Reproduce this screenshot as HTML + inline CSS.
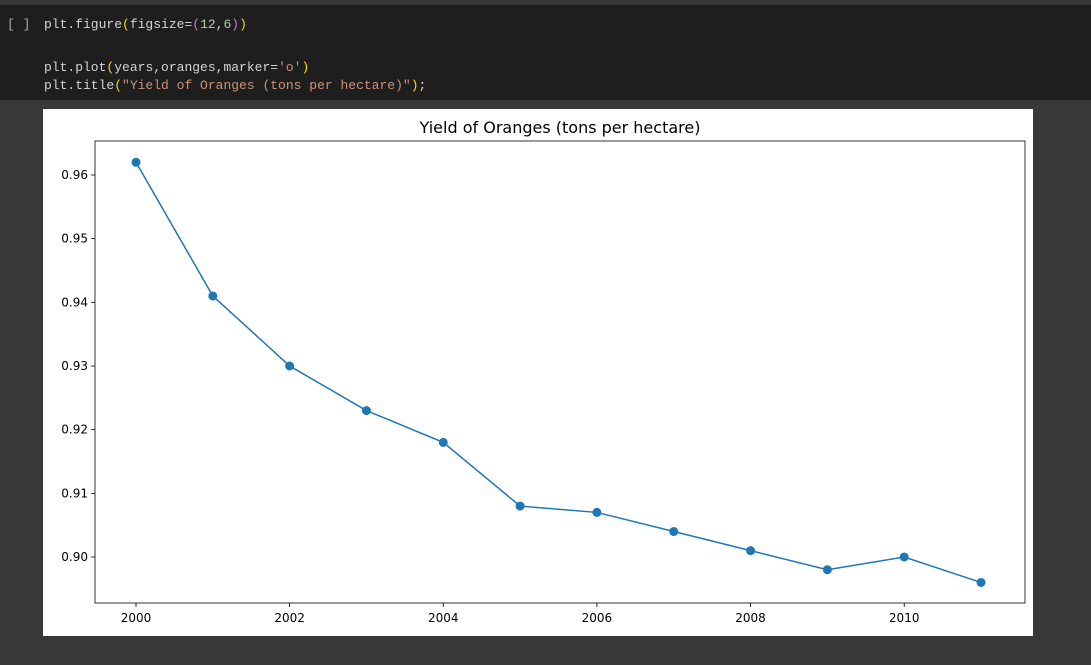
<!DOCTYPE html>
<html><head><meta charset="utf-8"><style>
body{margin:0;width:1091px;height:665px;background:#383838;position:relative;overflow:hidden;font-family:"Liberation Sans",sans-serif}
#cell{position:absolute;left:0;top:5px;width:1091px;height:95px;background:#1e1e1e}
.code{position:absolute;font-family:"Liberation Mono",monospace;font-size:13px;color:#d4d4d4;white-space:pre}
#fig{position:absolute;left:43px;top:109px;width:990px;height:527px;background:#fff}
</style></head><body>
<div id="cell">
<div class="code" style="left:7px;top:12px;color:#aaa">[ ]</div>
<div class="code" style="left:44px;top:12px">plt.figure<span style="color:#ffd700">(</span>figsize=<span style="color:#da70d6">(</span><span style="color:#b5cea8">12</span>,<span style="color:#b5cea8">6</span><span style="color:#da70d6">)</span><span style="color:#ffd700">)</span></div>
<div class="code" style="left:44px;top:55px">plt.plot<span style="color:#ffd700">(</span>years,oranges,marker=<span style="color:#ce9178">'o'</span><span style="color:#ffd700">)</span></div>
<div class="code" style="left:44px;top:73px">plt.title<span style="color:#ffd700">(</span><span style="color:#ce9178">"Yield of Oranges (tons per hectare)"</span><span style="color:#ffd700">)</span>;</div>
</div>
<div id="fig">
<svg id="svg" width="990" height="527" xmlns="http://www.w3.org/2000/svg"></svg>
</div>
<script>
const years=[2000,2001,2002,2003,2004,2005,2006,2007,2008,2009,2010,2011];
const oranges=[0.962,0.941,0.930,0.923,0.918,0.908,0.907,0.904,0.901,0.898,0.900,0.896];
const xTicks=[2000,2002,2004,2006,2008,2010];
const yTicks=[0.90,0.91,0.92,0.93,0.94,0.95,0.96];
const OX=43,OY=109;
function sx(v){return 136+(v-2000)*76.82-OX;}
function sy(v){return 557-(v-0.90)*6366.7-OY;}
const svg=document.getElementById('svg');
const NS='http://www.w3.org/2000/svg';
function mk(t,a){const e=document.createElementNS(NS,t);for(const k in a)e.setAttribute(k,a[k]);svg.appendChild(e);return e;}
const L=95-OX,T=141-OY,R=1025-OX,B=603-OY;
const title=mk('text',{x:(L+R)/2,y:T-8,'text-anchor':'middle','font-size':'16','font-family':'DejaVu Sans, sans-serif',fill:'#000'});
title.textContent='Yield of Oranges (tons per hectare)';


xTicks.forEach(v=>{
 const l=mk('line',{x1:sx(v),x2:sx(v),y1:B,y2:B+4,stroke:'#000','stroke-width':0.8});
 
 
 const t=mk('text',{x:sx(v),y:B+19,'text-anchor':'middle','font-size':'12','font-family':'DejaVu Sans, sans-serif'});
 t.textContent=v;
 
 
});
yTicks.forEach(v=>{
 const l=mk('line',{x1:L-4,x2:L,y1:sy(v),y2:sy(v),stroke:'#000','stroke-width':0.8});
 
 
 const t=mk('text',{x:L-7,y:sy(v)+4,'text-anchor':'end','font-size':'12','font-family':'DejaVu Sans, sans-serif'});
 t.textContent=v.toFixed(2);
 
 
});
const line=mk('polyline',{points:years.map((y,i)=>sx(y)+','+sy(oranges[i])).join(' '),fill:'none',stroke:'#1f77b4','stroke-width':1.5});


years.forEach((y,i)=>{
 const c=mk('circle',{cx:sx(y),cy:sy(oranges[i]),r:4.5,fill:'#1f77b4'});
 
 
});
const frame=mk('rect',{x:L,y:T,width:R-L,height:B-T,fill:'none',stroke:'#000','stroke-width':0.8});


</script>
</body></html>
